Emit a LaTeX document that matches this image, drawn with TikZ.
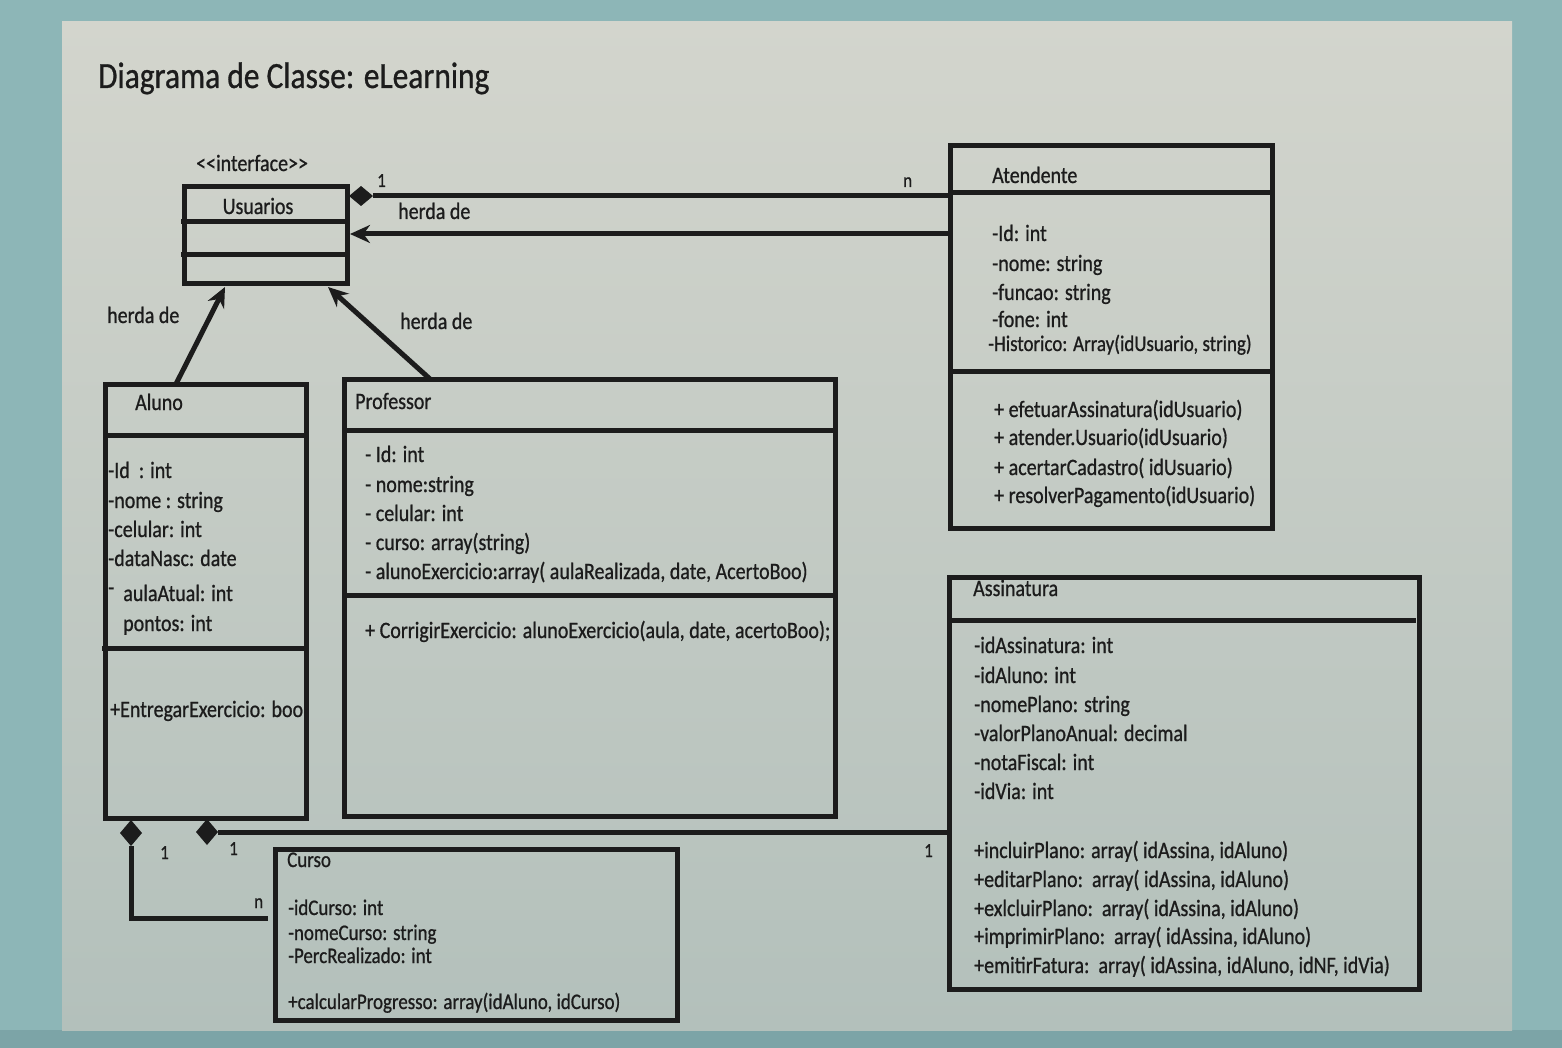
\documentclass[tikz,border=0pt]{standalone}
\usepackage{fontspec}
\setmainfont{Carlito}[FakeStretch=0.85,FakeBold=0.8]
\usetikzlibrary{arrows.meta,calc,shapes.geometric}
\definecolor{outerbg}{HTML}{8DB6B7}
\definecolor{outerlow}{HTML}{7CA4A7}
\definecolor{pagetop}{HTML}{D3D5CD}
\definecolor{pagebot}{HTML}{B3C0BB}
\definecolor{ink}{HTML}{1C1C1C}
\begin{document}
\begin{tikzpicture}[x=1pt,y=-1pt,
  box/.style={draw=ink, line width=5pt, anchor=north west, inner sep=0pt, outer sep=0pt},
  sepline/.style={draw=ink, line width=5pt},
  conn/.style={draw=ink, line width=5pt},
  dmd/.style={diamond, fill=ink, inner sep=0pt, outer sep=0pt, minimum width=22pt, minimum height=26pt},
  dmdh/.style={diamond, fill=ink, inner sep=0pt, outer sep=0pt, minimum width=24pt, minimum height=20pt},
  inh/.style={conn, -{Stealth[length=20pt,width=18pt]}},
  txt/.style={anchor=base west, inner sep=0pt, text=ink, font=\fontsize{23.5}{28}\selectfont},
  small/.style={txt, font=\fontsize{22.3}{26}\selectfont},
  mult/.style={txt, font=\fontsize{20}{24}\selectfont},
  title/.style={txt, font=\fontsize{37}{44}\selectfont}
]
\useasboundingbox (0,0) rectangle (1562,1048);
\fill[outerbg] (0,0) rectangle (1562,1048);
\fill[outerlow] (0,1030) rectangle (1562,1048);
\shade[top color=pagetop, bottom color=pagebot] (62,22) rectangle (1512,1030);

% title
\node[title] (title) at (98,88) {Diagrama de Classe: eLearning};

% Usuarios
\node[txt] (stereo) at (196,171) {<{}<interface>{}>};
\node[box, minimum width=163pt, minimum height=97pt] (usu) at (184,187) {};
\draw[sepline] ($(usu.north west)+(-3,35)$) -- ($(usu.north east)+(3,35)$);
\draw[sepline] ($(usu.north west)+(-3,68)$) -- ($(usu.north east)+(0,68)$);
\node[txt, anchor=base] (usuname) at (258,214) {Usuarios};

% Atendente
\node[box, minimum width=322pt, minimum height=382pt] (ate) at (950,146) {};
\draw[sepline] ($(ate.north west)+(0,47)$) -- ($(ate.north east)+(0,47)$);
\draw[sepline] ($(ate.north west)+(0,225)$) -- ($(ate.north east)+(0,225)$);
\node[txt] (atename) at (992,183) {Atendente};
\node[txt] (ate1) at (992,241) {-Id: int};
\node[txt] (ate2) at (992,271) {-nome: string};
\node[txt] (ate3) at (992,300) {-funcao: string};
\node[txt] (ate4) at (992,327) {-fone: int};
\node[small] (ate5) at (988,351) {-Historico: Array(idUsuario, string)};
\node[txt] (ate6) at (994,417) {+ efetuarAssinatura(idUsuario)};
\node[txt] (ate7) at (994,445) {+ atender.Usuario(idUsuario)};
\node[txt] (ate8) at (994,475) {+ acertarCadastro( idUsuario)};
\node[txt] (ate9) at (994,503) {+ resolverPagamento(idUsuario)};

% Aluno
\node[box, minimum width=201pt, minimum height=434pt] (alu) at (105,384) {};
\draw[sepline] ($(alu.north west)+(0,51)$) -- ($(alu.north east)+(0,51)$);
\draw[sepline] ($(alu.north west)+(-3,264)$) -- ($(alu.north east)+(0,264)$);
\node[txt] (aluname) at (135,410) {Aluno};
\node[txt] (alu1) at (108,478) {-Id\ \ : int};
\node[txt] (alu2) at (108,508) {-nome : string};
\node[txt] (alu3) at (108,537) {-celular: int};
\node[txt] (alu4) at (108,566) {-dataNasc: date};
\node[txt] (alu5) at (108,601) {\raisebox{6pt}{-}\ \ aulaAtual: int};
\node[txt] (alu6) at (123,631) {pontos: int};
\node[txt] (alu7) at (110,717) {+EntregarExercicio: boo};

% Professor
\node[box, minimum width=491pt, minimum height=437pt] (pro) at (344,379) {};
\draw[sepline] ($(pro.north west)+(0,51)$) -- ($(pro.north east)+(0,51)$);
\draw[sepline] ($(pro.north west)+(0,216)$) -- ($(pro.north east)+(0,216)$);
\node[txt] (proname) at (355,409) {Professor};
\node[txt] (pro1) at (365,462) {- Id: int};
\node[txt] (pro2) at (365,492) {- nome:string};
\node[txt] (pro3) at (365,521) {- celular: int};
\node[txt] (pro4) at (365,550) {- curso: array(string)};
\node[txt] (pro5) at (365,579) {- alunoExercicio:array( aulaRealizada, date, AcertoBoo)};
\node[txt] (pro6) at (365,638) {+ CorrigirExercicio: alunoExercicio(aula, date, acertoBoo);};

% Assinatura
\node[box, minimum width=470pt, minimum height=412pt] (ass) at (949,577) {};
\draw[sepline] ($(ass.north west)+(0,43)$) -- ($(ass.north east)+(-3,43)$);
\node[txt] (assname) at (973,596) {Assinatura};
\node[txt] (ass1) at (974,653) {-idAssinatura: int};
\node[txt] (ass2) at (974,683) {-idAluno: int};
\node[txt] (ass3) at (974,712) {-nomePlano: string};
\node[txt] (ass4) at (974,741) {-valorPlanoAnual: decimal};
\node[txt] (ass5) at (974,770) {-notaFiscal: int};
\node[txt] (ass6) at (974,799) {-idVia: int};
\node[txt] (ass7) at (974,858) {+incluirPlano: array( idAssina, idAluno)};
\node[txt] (ass8) at (974,887) {+editarPlano:\ \ array( idAssina, idAluno)};
\node[txt] (ass9) at (974,916) {+exlcluirPlano:\ \ array( idAssina, idAluno)};
\node[txt] (ass10) at (974,944) {+imprimirPlano:\ \ array( idAssina, idAluno)};
\node[txt] (ass11) at (974,973) {+emitirFatura:\ \ array( idAssina, idAluno, idNF, idVia)};

% Curso
\node[box, minimum width=402pt, minimum height=171pt] (cur) at (275,849) {};
\node[small] (curname) at (287,867) {Curso};
\node[small] (cur1) at (288,915) {-idCurso: int};
\node[small] (cur2) at (288,940) {-nomeCurso: string};
\node[small] (cur3) at (288,963) {-PercRealizado: int};
\node[small] (cur4) at (288,1009) {+calcularProgresso: array(idAluno, idCurso)};

% connectors: Atendente -> Usuarios
\node[dmdh] (d0) at (361,196) {};
\draw[conn] (d0.east) -- ($(ate.north west)+(0,50)$);
\node[mult] (m0a) at (377,187) {1};
\node[mult] (m0b) at (903,187) {n};
\draw[inh] ($(ate.north west)+(0,88)$) -- ($(usu.north east)+(3,47)$);
\node[txt] (h1) at (398,219) {herda de};

% Aluno / Professor -> Usuarios
\draw[inh] ($(alu.north west)+(71,0)$) -- ($(usu.south west)+(41,3)$);
\node[txt] (h2) at (107,323) {herda de};
\draw[inh] ($(pro.north west)+(86,0)$) -- ($(usu.south west)+(144,3)$);
\node[txt] (h3) at (400,329) {herda de};

% Aluno -> Curso
\node[dmd] (d1) at (131,833) {};
\coordinate (cj) at ($(cur.north west)+(-7,69)$);
\draw[conn] (d1.south) |- (cj);
\node[mult] (m1a) at (160,859) {1};
\node[mult] (m1b) at (254,908) {n};

% Aluno -> Assinatura
\node[dmd] (d2) at (207,832) {};
\coordinate (aj) at ($(ass.north west)+(0,254)$);
\draw[conn] (d2.east) -- (d2.east -| aj);
\node[mult] (m2a) at (229,855) {1};
\node[mult] (m2b) at (924,857) {1};
\end{tikzpicture}
\end{document}
